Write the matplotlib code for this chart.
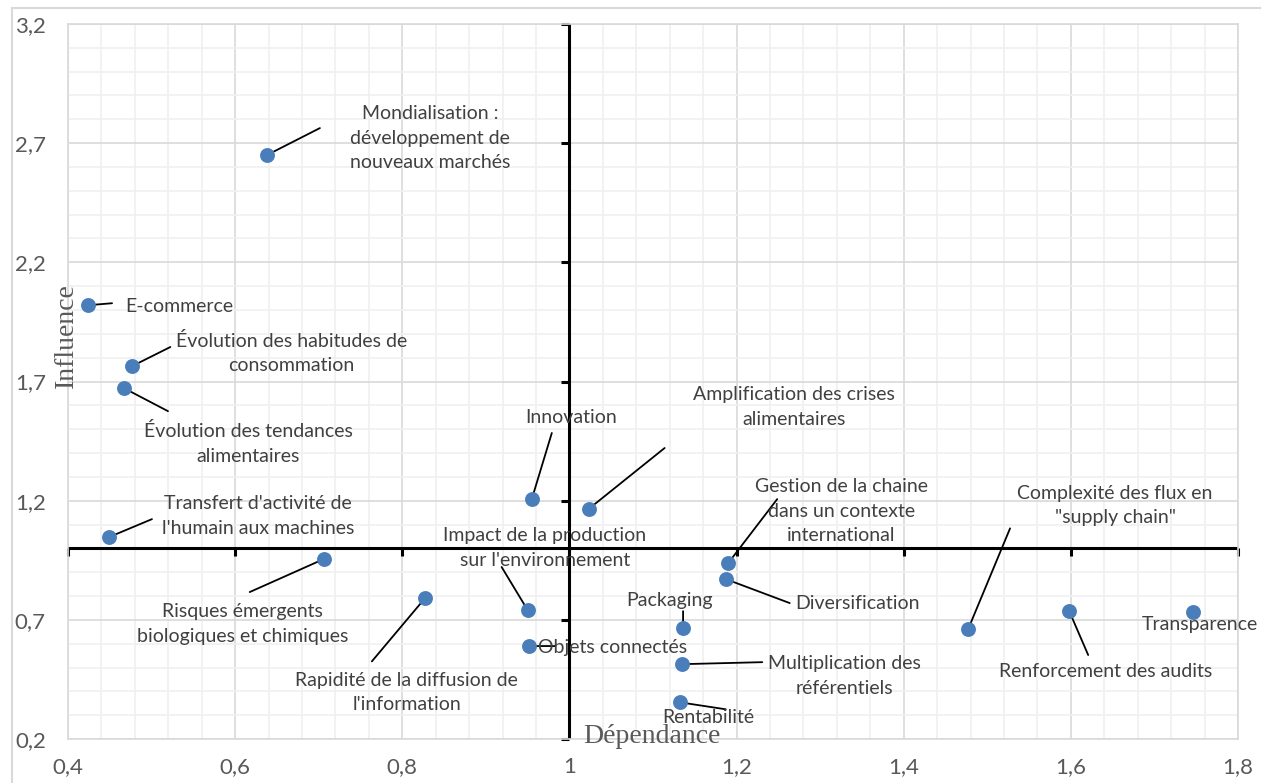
import matplotlib
matplotlib.use("Agg")
import matplotlib.pyplot as plt
from matplotlib.patches import Rectangle
from matplotlib.ticker import MultipleLocator, FuncFormatter

labels = [
    "Mondialisation :\ndéveloppement de\nnouveaux marchés",
    "E-commerce",
    "Évolution des habitudes de\nconsommation",
    "Évolution des tendances\nalimentaires",
    "Transfert d'activité de\nl'humain aux machines",
    "Innovation",
    "Amplification des crises\nalimentaires",
    "Risques émergents\nbiologiques et chimiques",
    "Rapidité de la diffusion de\nl'information",
    "Impact de la production\nsur l'environnement",
    "Objets connectés",
    "Gestion de la chaine\ndans un contexte\ninternational",
    "Diversification",
    "Packaging",
    "Multiplication des\nréférentiels",
    "Rentabilité",
    "Complexité des flux en\n\"supply chain\"",
    "Renforcement des audits",
    "Transparence",
]
dependance = [0.638, 0.424, 0.477, 0.467, 0.449, 0.955, 1.023, 0.706, 0.827, 0.950,
              0.952, 1.190, 1.187, 1.136, 1.135, 1.132, 1.477, 1.598, 1.746]
influence = [2.65, 2.02, 1.765, 1.672, 1.047, 1.207, 1.165, 0.955, 0.79, 0.741,
             0.59, 0.938, 0.871, 0.665, 0.514, 0.354, 0.66, 0.737, 0.733]

# label offsets and leader-line ends, in pixels from the point
text_off = [(163, 17), (91, -1), (159, 13), (124, -55), (149, 21), (39, 81), (205, 102),
            (-81, -65), (-18, -94), (17, 62), (83, -1), (113, 52), (132, -24), (-14, 28),
            (162, -12), (29, -15), (147, 124), (36, -60), (7, -13)]
line_off = [(53, 27), (24, 2), (38, 19), (44, -23), (43, 18), (20, 66), (76, 61),
            (-74, -33), (-53, -63), (-26, 43), (26, 0), (49, 64), (64, -24), (0, 17),
            (80, 2), (46, -7), (42, 101), (19, -44), None]

xticks = [0.4, 0.6, 0.8, 1.0, 1.2, 1.4, 1.6, 1.8]
yticks = [0.2, 0.7, 1.2, 1.7, 2.2, 2.7, 3.2]

plt.rcParams['font.family'] = ['Lato', 'DejaVu Sans']

fig = plt.figure(figsize=(12.61, 7.83), dpi=100)
fig.patches.append(Rectangle((12 / 1261, -0.05), 1.2, 0.05 + 1 - 8 / 783,
                             transform=fig.transFigure, fill=False,
                             edgecolor='#d9d9d9', linewidth=1.5))
ax = fig.add_axes([68 / 1261, 1 - 739 / 783, 1170 / 1261, 715 / 783])

ax.set_xlim(0.4, 1.8)
ax.set_ylim(0.2, 3.2)
ax.xaxis.set_minor_locator(MultipleLocator(0.04))
ax.yaxis.set_minor_locator(MultipleLocator(0.1))
ax.set_xticks(xticks)
ax.set_yticks(yticks)
fmt = FuncFormatter(lambda v, p: ('%g' % round(v, 2)).replace('.', ','))
ax.xaxis.set_major_formatter(fmt)
ax.yaxis.set_major_formatter(fmt)
ax.tick_params(which='both', length=0)
ax.tick_params(axis='x', pad=13, labelsize=16, labelcolor='#595959')
ax.tick_params(axis='y', pad=16, labelsize=16, labelcolor='#595959')
ax.grid(which='minor', color='#f0f0f0', linewidth=1.2)
ax.grid(which='major', color='#d9d9d9', linewidth=1.2)
ax.set_axisbelow(True)
for s in ax.spines.values():
    s.set_color('#d9d9d9')
    s.set_linewidth(1.2)

# central axes through (1, 1)
ax.axhline(1.0, color='black', linewidth=2.2, zorder=2)
ax.axvline(1.0, color='black', linewidth=2.2, zorder=2)
ax.plot([1.0] * len(yticks), yticks, linestyle='none', marker=0, markersize=6,
        markeredgewidth=2.2, color='black', clip_on=False, zorder=2)
ax.plot(xticks, [1.0] * len(xticks), linestyle='none', marker=3, markersize=6,
        markeredgewidth=2.2, color='black', clip_on=False, zorder=2)

ax.scatter(dependance, influence, s=115, color='#4a7ebb', zorder=4, linewidths=0)

for i, lab in enumerate(labels):
    pt = (dependance[i], influence[i])
    if line_off[i] is not None:
        ax.annotate('', xy=pt, xytext=line_off[i], textcoords='offset pixels',
                    arrowprops=dict(arrowstyle='-', color='black', linewidth=1.3,
                                    shrinkA=0, shrinkB=0), zorder=3)
    ax.annotate(lab, xy=pt, xytext=text_off[i], textcoords='offset pixels',
                ha='center', va='center', fontsize=14, color='#404040',
                linespacing=1.55, zorder=5)

ax.text(-0.001, 0.564, 'Influence', transform=ax.transAxes, rotation=90,
        ha='center', va='center', fontsize=20, color='#595959',
        family='Liberation Serif')
ax.text(0.499, 0.003, 'Dépendance', transform=ax.transAxes,
        ha='center', va='center', fontsize=20, color='#595959',
        family='Liberation Serif')

fig.savefig('out.png', dpi=100)
